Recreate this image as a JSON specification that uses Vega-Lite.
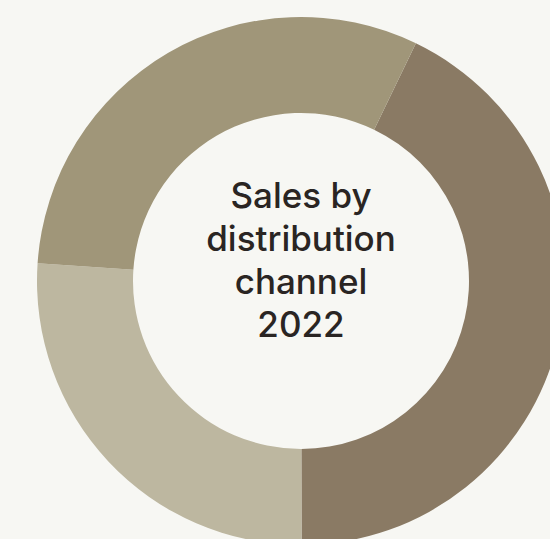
{
  "$schema": "https://vega.github.io/schema/vega-lite/v6.json",
  "width": 498,
  "height": 538,
  "padding": {"left": 52, "top": 12, "right": 0, "bottom": 0},
  "autosize": "none",
  "background": "#f7f7f3",
  "config": {"view": {"stroke": null}},
  "layer": [
    {
      "data": {"values": [
        {"channel": "A", "share": 42.8, "order": 1},
        {"channel": "B", "share": 26.1, "order": 2},
        {"channel": "C", "share": 31.1, "order": 3}
      ]},
      "mark": {"type": "arc", "innerRadius": 168, "outerRadius": 264, "theta": 0},
      "encoding": {
        "theta": {"field": "share", "type": "quantitative", "stack": true, "scale": {"range": [0.4503, 6.7335]}},
        "order": {"field": "order", "type": "quantitative"},
        "color": {"field": "channel", "type": "nominal", "legend": null,
          "scale": {"domain": ["A", "B", "C"], "range": ["#8a7a64", "#bdb7a0", "#a09679"]}}
      }
    },
    {
      "data": {"values": [{"label": ["Sales by", "distribution", "channel", "2022"]}]},
      "mark": {"type": "text", "font": "Inter", "fontSize": 35, "fontWeight": 500, "lineHeight": 43, "color": "#2a2523", "align": "center", "baseline": "middle", "dy": -84},
      "encoding": {"text": {"field": "label"}}
    }
  ]
}
